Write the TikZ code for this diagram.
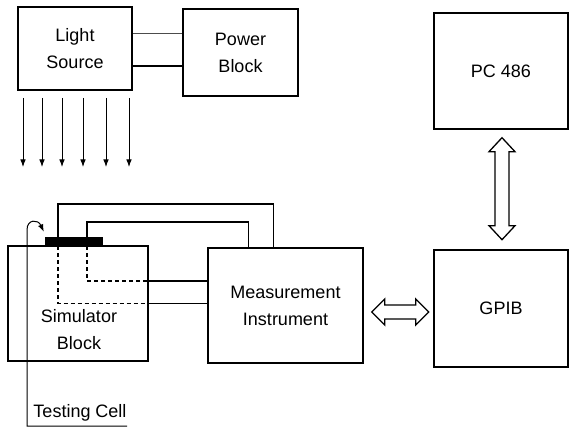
\documentclass[tikz,border=0pt]{standalone}
\usepackage{fontspec}
\setmainfont{Liberation Sans}
\usetikzlibrary{arrows.meta,calc}

\begin{document}
\begin{tikzpicture}[x=1pt,y=-1pt,>=Latex,font=\fontsize{18}{27}\selectfont]
\tikzstyle{box}=[draw,line width=1.4pt,inner sep=0pt,align=center]
\tikzstyle{wire}=[line width=1.6pt]
\tikzstyle{dwire}=[line width=1.4pt,dash pattern=on 4pt off 3pt]
\tikzstyle{dbl}=[line width=1.3pt,line join=miter]
\useasboundingbox (0,0) rectangle (570,427);
\node[box,minimum width=114pt,minimum height=83pt] (light) at (75,48.5) {Light\\Source};
\node[box,minimum width=115pt,minimum height=87pt] (power) at (240.5,52.5) {Power\\Block};
\node[box,minimum width=134pt,minimum height=116pt] (pc) at (501,71) {PC 486};
\node[box,minimum width=134pt,minimum height=117pt] (gpib) at (501,308.5) {GPIB};
\node[box,minimum width=155pt,minimum height=115pt] (meas) at (285.5,305.5) {Measurement\\Instrument};
\node[box,minimum width=140pt,minimum height=115pt] (sim) at (78,303.5) {};
\node[align=center] (simtext) at (79,330) {Simulator\\Block};
\node[draw,fill=black,minimum width=57pt,minimum height=9pt,inner sep=0pt] (cell) at (73.5,241.5) {};
\node (tc) at (80,413) {Testing Cell};
% light source to power block
\coordinate (lu) at ($(light.east)+(0,-14.5)$); \coordinate (ld) at ($(light.east)+(0,17.5)$);
\draw[line width=1pt,black!70] (lu) -- (lu -| power.west); \draw[wire] (ld) -- (ld -| power.west);
\foreach \x in {23,42,62,83,106,129} \draw[->,line width=1pt] (\x,98) -- (\x,167);
% cell wires
\draw[wire] ($(cell.north west)+(13,0)$) -- ++(0,-33) -| ($(meas.north west)+(66,0)$);
\draw[wire] ($(cell.north west)+(42,0)$) -- ++(0,-15) -| ($(meas.north west)+(41,0)$);
\coordinate (s1) at ($(sim.east)+(0,-22.5)$); \coordinate (s2) at (sim.east);
\draw[dwire] ($(cell.south west)+(13,0)$) |- (s2); \draw[dwire] ($(cell.south west)+(42,0)$) |- (s1);
\draw[wire] (s1) -- (s1 -| meas.west); \draw[wire] (s2) -- (s2 -| meas.west);
% testing cell pointer
\coordinate (tcb) at (27,426);
\draw[line width=1pt,<-] ($(cell.north west)+(-1,-5)$) .. controls (38,219) and (27,219) .. (27,230) -- (tcb) -- ++(100,0);
% bus arrows
\draw[dbl] ($(pc.south)+(1,8)$) -- ++(13,14) -- ++(-6,0) -- ++(0,74) -- ++(6,0) -- ++(-13,14) -- ++(-13,-14) -- ++(6,0) -- ++(0,-74) -- ++(-6,0) -- cycle;
\draw[dbl] ($(meas.east)+(8,6.5)$) -- ++(13,-13) -- ++(0,6) -- ++(31,0) -- ++(0,-6) -- ++(13,13) -- ++(-13,13) -- ++(0,-6) -- ++(-31,0) -- ++(0,6) -- cycle;
\end{tikzpicture}
\end{document}
